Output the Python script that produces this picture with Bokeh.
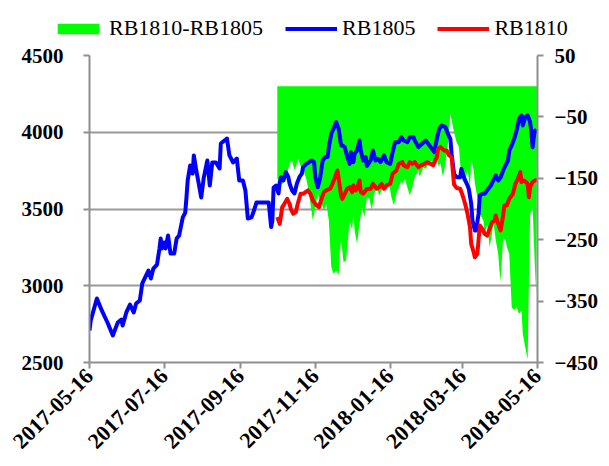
import pandas as pd
from bokeh.plotting import figure
from bokeh.layouts import column
from bokeh.models import (Range1d, LinearAxis, FixedTicker, DatetimeTickFormatter,
                          Legend, LegendItem)
from bokeh.embed import file_html
from bokeh.resources import INLINE
from math import pi

# ---------------- data ----------------
rb1805_dates = ["2017-05-16","2017-05-17","2017-05-22","2017-05-26","2017-05-31","2017-06-04","2017-06-08","2017-06-11","2017-06-12","2017-06-15",
"2017-06-18","2017-06-21","2017-06-23","2017-06-26","2017-06-28","2017-07-03","2017-07-05","2017-07-07","2017-07-10","2017-07-12",
"2017-07-13","2017-07-14","2017-07-16","2017-07-17","2017-07-19","2017-07-21","2017-07-24","2017-07-26","2017-07-28","2017-07-31",
"2017-08-02","2017-08-03","2017-08-04","2017-08-06","2017-08-08","2017-08-09","2017-08-11","2017-08-13","2017-08-15","2017-08-17",
"2017-08-20","2017-08-22","2017-08-24","2017-08-27","2017-08-30","2017-08-31","2017-09-05","2017-09-07","2017-09-10","2017-09-13",
"2017-09-15","2017-09-18","2017-09-20","2017-09-22","2017-09-25","2017-09-27","2017-09-29","2017-10-09","2017-10-11","2017-10-12",
"2017-10-13","2017-10-15","2017-10-17","2017-10-18","2017-10-19","2017-10-21","2017-10-23","2017-10-25","2017-10-26","2017-10-28",
"2017-10-30","2017-11-01","2017-11-03","2017-11-05","2017-11-06","2017-11-09","2017-11-11","2017-11-13","2017-11-15","2017-11-16",
"2017-11-18","2017-11-20","2017-11-22","2017-11-24","2017-11-26","2017-11-27","2017-11-29","2017-12-02","2017-12-03","2017-12-05",
"2017-12-07","2017-12-08","2017-12-10","2017-12-12","2017-12-14","2017-12-15","2017-12-17","2017-12-18","2017-12-20","2017-12-22",
"2017-12-23","2017-12-25","2017-12-27","2017-12-28","2017-12-31","2018-01-02","2018-01-04","2018-01-06","2018-01-08","2018-01-11",
"2018-01-13","2018-01-16","2018-01-18","2018-01-20","2018-01-23","2018-01-25","2018-01-27","2018-01-30","2018-02-01","2018-02-04",
"2018-02-05","2018-02-08","2018-02-11","2018-02-14","2018-02-16","2018-02-19","2018-02-21","2018-02-23","2018-02-25","2018-02-27",
"2018-03-02","2018-03-04","2018-03-06","2018-03-07","2018-03-09","2018-03-11","2018-03-14","2018-03-15","2018-03-17","2018-03-20",
"2018-03-21","2018-03-23","2018-03-24","2018-03-26","2018-03-27","2018-03-29","2018-03-30","2018-04-01","2018-04-03","2018-04-05",
"2018-04-08","2018-04-10","2018-04-12","2018-04-14","2018-04-16","2018-04-18","2018-04-20","2018-04-22","2018-04-23","2018-04-25",
"2018-04-27","2018-04-29","2018-05-01","2018-05-03","2018-05-04","2018-05-06","2018-05-08","2018-05-10","2018-05-11","2018-05-12",
"2018-05-13","2018-05-14","2018-05-16"]
rb1805_values = [2708,2774,2917,2839,2754,2676,2760,2780,2741,2826,
2878,2826,2884,2904,3015,3099,3047,3112,3138,3243,
3308,3243,3282,3243,3327,3210,3210,3308,3327,3445,
3477,3575,3686,3783,3731,3849,3751,3666,3575,3699,
3816,3653,3803,3803,3764,3927,3959,3849,3803,3829,
3686,3686,3621,3438,3445,3490,3542,3542,3382,3425,
3640,3653,3601,3675,3707,3686,3740,3707,3666,3621,
3601,3666,3707,3731,3773,3796,3805,3816,3805,3707,
3642,3707,3816,3838,3838,3903,3990,4044,4066,4022,
3914,3914,3903,3838,3794,3870,3805,3860,3881,3946,
3881,3816,3838,3780,3816,3881,3816,3827,3805,3849,
3805,3794,3870,3935,3935,3968,3946,3935,3968,3968,
3946,3903,3925,3946,3925,3892,3870,3957,4022,4044,
4033,3990,3957,3860,3729,3707,3707,3762,3707,3653,
3632,3534,3425,3360,3360,3469,3588,3599,3599,3621,
3653,3686,3718,3686,3707,3751,3784,3816,3881,3914,
3957,4011,4088,4109,4044,4098,4109,4066,4000,3903,
3968,4011,3994]

rb1810_dates = ["2017-10-16","2017-10-18","2017-10-20","2017-10-21","2017-10-24","2017-10-26","2017-10-27","2017-10-29","2017-10-31","2017-11-02",
"2017-11-04","2017-11-06","2017-11-08","2017-11-10","2017-11-12","2017-11-14","2017-11-16","2017-11-17","2017-11-19","2017-11-21",
"2017-11-23","2017-11-25","2017-11-28","2017-11-30","2017-12-02","2017-12-04","2017-12-05","2017-12-07","2017-12-08","2017-12-10",
"2017-12-12","2017-12-14","2017-12-16","2017-12-17","2017-12-19","2017-12-20","2017-12-22","2017-12-23","2017-12-25","2017-12-28",
"2017-12-31","2018-01-02","2018-01-05","2018-01-07","2018-01-09","2018-01-11","2018-01-13","2018-01-16","2018-01-18","2018-01-21",
"2018-01-23","2018-01-26","2018-01-27","2018-01-30","2018-02-01","2018-02-03","2018-02-05","2018-02-08","2018-02-10","2018-02-13",
"2018-02-15","2018-02-18","2018-02-20","2018-02-23","2018-02-24","2018-02-26","2018-03-01","2018-03-03","2018-03-05","2018-03-07",
"2018-03-09","2018-03-11","2018-03-14","2018-03-16","2018-03-18","2018-03-20","2018-03-22","2018-03-23","2018-03-25","2018-03-26",
"2018-03-28","2018-03-30","2018-04-01","2018-04-03","2018-04-05","2018-04-07","2018-04-09","2018-04-11","2018-04-12","2018-04-14",
"2018-04-16","2018-04-18","2018-04-19","2018-04-21","2018-04-23","2018-04-24","2018-04-26","2018-04-28","2018-04-30","2018-05-02",
"2018-05-03","2018-05-05","2018-05-08","2018-05-09","2018-05-10","2018-05-12","2018-05-14","2018-05-16"]
rb1810_values = [3447,3403,3512,3523,3566,3534,3501,3469,3479,3544,
3599,3599,3610,3621,3599,3555,3534,3523,3512,3566,
3610,3621,3632,3664,3707,3751,3697,3588,3566,3599,
3632,3642,3610,3653,3621,3632,3686,3610,3600,3630,
3632,3664,3632,3642,3664,3632,3653,3664,3729,3751,
3794,3805,3784,3773,3805,3794,3805,3773,3784,3794,
3805,3794,3784,3838,3892,3903,3881,3881,3849,3838,
3660,3637,3632,3588,3534,3469,3382,3273,3218,3186,
3208,3393,3371,3338,3327,3371,3414,3425,3458,3403,
3360,3458,3523,3523,3566,3577,3599,3664,3697,3740,
3675,3686,3664,3577,3642,3675,3686,3690]

spread_dates = ["2017-10-16","2017-10-20","2017-10-23","2017-10-26","2017-10-28","2017-10-30","2017-11-01","2017-11-02","2017-11-04","2017-11-06",
"2017-11-09","2017-11-11","2017-11-13","2017-11-14","2017-11-16","2017-11-18","2017-11-20","2017-11-23","2017-11-25","2017-11-27",
"2017-11-29","2017-12-01","2017-12-03","2017-12-05","2017-12-06","2017-12-07","2017-12-09","2017-12-11","2017-12-13","2017-12-14",
"2017-12-16","2017-12-17","2017-12-18","2017-12-20","2017-12-22","2017-12-24","2017-12-26","2017-12-28","2017-12-30","2018-01-01",
"2018-01-03","2018-01-05","2018-01-07","2018-01-09","2018-01-12","2018-01-15","2018-01-17","2018-01-19","2018-01-21","2018-01-23",
"2018-01-25","2018-01-26","2018-01-28","2018-01-30","2018-02-01","2018-02-03","2018-02-05","2018-02-08","2018-02-09","2018-02-12",
"2018-02-14","2018-02-16","2018-02-19","2018-02-21","2018-02-23","2018-02-24","2018-02-26","2018-02-28","2018-03-02","2018-03-04",
"2018-03-05","2018-03-06","2018-03-09","2018-03-11","2018-03-13","2018-03-14","2018-03-16","2018-03-18","2018-03-20","2018-03-22",
"2018-03-23","2018-03-25","2018-03-26","2018-03-28","2018-03-30","2018-04-02","2018-04-03","2018-04-05","2018-04-07","2018-04-09",
"2018-04-10","2018-04-12","2018-04-14","2018-04-15","2018-04-16","2018-04-18","2018-04-20","2018-04-21","2018-04-23","2018-04-25",
"2018-04-27","2018-04-29","2018-05-01","2018-05-03","2018-05-04","2018-05-06","2018-05-08","2018-05-09","2018-05-10","2018-05-12",
"2018-05-13","2018-05-14","2018-05-15","2018-05-16"]
spread_values = [-150,-160,-150,-126,-121,-137,-126,-118,-130,-135,
-154,-178,-205,-219,-197,-175,-186,-202,-192,-219,
-295,-306,-300,-308,-268,-251,-287,-284,-240,-219,
-235,-208,-235,-257,-224,-197,-213,-181,-183,-202,
-175,-165,-178,-170,-162,-159,-181,-194,-175,-165,
-154,-159,-151,-165,-178,-165,-148,-137,-148,-132,
-135,-126,-121,-129,-113,-129,-126,-148,-126,-94,
-72,-45,-75,-91,-99,-126,-154,-159,-135,-165,
-118,-137,-159,-181,-208,-219,-246,-224,-262,-240,
-219,-251,-273,-300,-317,-246,-251,-262,-273,-360,
-365,-360,-371,-365,-403,-425,-445,-317,-208,-197,
-250,-300,-338,50]

x_tick_labels = ["2017-05-16","2017-07-16","2017-09-16","2017-11-16","2018-01-16","2018-03-16","2018-05-16"]
left_ticks = [2500, 3000, 3500, 4000, 4500]
right_ticks = [-450, -350, -250, -150, -50, 50]
series_names = ["RB1810-RB1805", "RB1805", "RB1810"]
series_colors = ["#00ff00", "#0000ff", "#ff0000"]

# ---------------- figure ----------------
def ts(s):
    return pd.Timestamp(s)

n1 = min(len(rb1805_dates), len(rb1805_values))
n2 = min(len(rb1810_dates), len(rb1810_values))
n3 = min(len(spread_dates), len(spread_values))
x1 = pd.to_datetime(rb1805_dates[:n1]); y1 = rb1805_values[:n1]
x2 = pd.to_datetime(rb1810_dates[:n2]); y2 = rb1810_values[:n2]
x3 = pd.to_datetime(spread_dates[:n3]); y3 = spread_values[:n3]

W = 605
LEG_H = 45
H = 417
FL, FT, FW, FH = 89, 10, 448, 307
FONT = "Liberation Serif"
AX_COL = "#8f8f8f"
LW = 4

# ---- legend strip on top (same series, plotted out of its view) ----
pl = figure(width=W, height=LEG_H, output_backend="svg", toolbar_location=None,
            x_range=Range1d(0, 1), y_range=Range1d(0, 1),
            x_axis_location=None, y_axis_location=None,
            min_border=0, min_border_left=0, min_border_right=0,
            min_border_top=0, min_border_bottom=0)
try:
    pl.frame_align = False
except Exception:
    pass
pl.outline_line_color = None
pl.grid.visible = False
g0 = pl.varea(x=x3, y1=0, y2=y3, fill_color=series_colors[0], fill_alpha=1.0)
g1 = pl.line(x1, y1, line_color=series_colors[1], line_width=LW)
g2 = pl.line(x2, y2, line_color=series_colors[2], line_width=LW)
legend = Legend(items=[LegendItem(label=series_names[0], renderers=[g0]),
                       LegendItem(label=series_names[1], renderers=[g1]),
                       LegendItem(label=series_names[2], renderers=[g2])],
                orientation="horizontal", location=(52, 4),
                glyph_width=52, glyph_height=13, label_standoff=5, spacing=22,
                padding=0, margin=0, border_line_color=None, background_fill_alpha=0,
                label_text_font=FONT, label_text_font_size="22px", label_text_color="black")
pl.add_layout(legend)

# ---- main chart ----
p = figure(width=W, height=H, x_axis_type="datetime",
           output_backend="svg", toolbar_location=None,
           x_range=Range1d(ts(x_tick_labels[0]), ts(x_tick_labels[-1])),
           y_range=Range1d(left_ticks[0], left_ticks[-1]),
           min_border_left=FL, min_border_right=W - FL - FW,
           min_border_top=FT, min_border_bottom=H - FT - FH)
try:
    p.frame_align = False
except Exception:
    pass
p.extra_y_ranges = {"spread": Range1d(right_ticks[0], right_ticks[-1])}
p.outline_line_color = None
p.background_fill_color = "white"
p.border_fill_color = "white"

def style_axis(ax):
    ax.axis_line_color = AX_COL
    ax.axis_line_width = 2
    ax.major_tick_line_color = AX_COL
    ax.major_tick_line_width = 2
    ax.major_tick_in = 0
    ax.major_tick_out = 6
    ax.minor_tick_line_color = None
    ax.major_label_text_font = FONT
    ax.major_label_text_font_style = "bold"
    ax.major_label_text_font_size = "21px"
    ax.major_label_text_color = "black"

xa = p.xaxis[0]
xa.ticker = FixedTicker(ticks=[ts(s).value // 10**6 for s in x_tick_labels])
fmt = "%Y-%m-%d"
xa.formatter = DatetimeTickFormatter(milliseconds=fmt, seconds=fmt, minsec=fmt, minutes=fmt,
                                     hourmin=fmt, hours=fmt, days=fmt, months=fmt, years=fmt)
xa.major_label_orientation = pi / 4
style_axis(xa)
xa.major_label_text_font_size = "22px"
xa.major_label_standoff = 4

ya = p.yaxis[0]
ya.ticker = FixedTicker(ticks=left_ticks)
style_axis(ya)
ya.major_label_standoff = 20

ra = LinearAxis(y_range_name="spread", ticker=FixedTicker(ticks=right_ticks))
style_axis(ra)
ra.major_label_standoff = 11
p.add_layout(ra, "right")

p.xgrid.grid_line_color = None
p.ygrid.ticker = FixedTicker(ticks=left_ticks)
p.ygrid.grid_line_color = "#9a9a9a"
p.ygrid.grid_line_width = 2

p.varea(x=x3, y1=0, y2=y3, y_range_name="spread", fill_color=series_colors[0], fill_alpha=1.0)
p.line(x1, y1, line_color=series_colors[1], line_width=LW, line_join="round")
p.line(x2, y2, line_color=series_colors[2], line_width=LW, line_join="round")

open("out.html", "w").write(file_html(column(pl, p, spacing=0), INLINE))
